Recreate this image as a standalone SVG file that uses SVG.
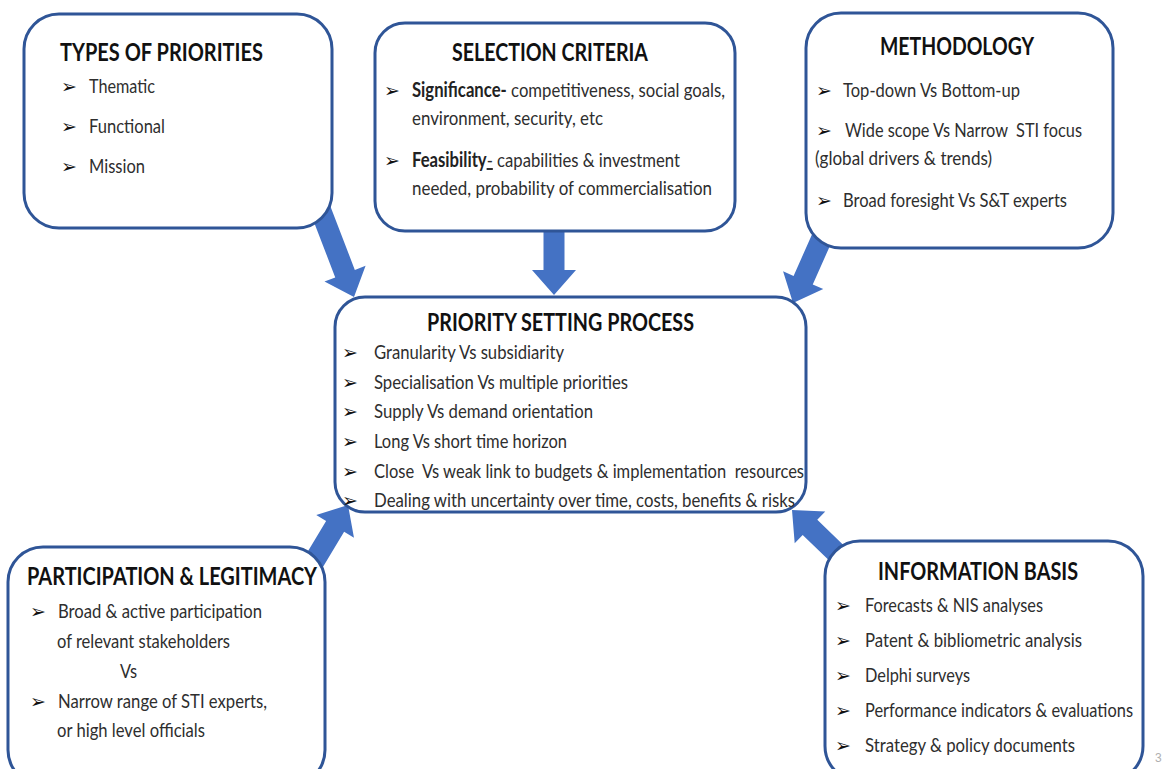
<svg xmlns="http://www.w3.org/2000/svg" width="1162" height="769" viewBox="0 0 1162 769">
  <style>
    .box { fill: #ffffff; stroke: #2F5597; stroke-width: 3; }
    .arrow { fill: #4472C4; stroke: none; }
    .title { font-family: Lato, "Open Sans", sans-serif; font-weight: 700; font-size: 24px; fill: #111111; }
    .txt { font-family: Lato, "Open Sans", sans-serif; font-size: 20px; fill: #2e2e2e; }
    .bold { font-weight: 700; fill: #222222; }
    .bul { font-family: "DejaVu Sans", sans-serif; font-size: 19px; fill: #111111; }
    .pg { font-family: "Liberation Sans", sans-serif; font-size: 12px; fill: #b0b0b0; }
  </style>
  <defs>
    <!-- block arrow pointing down (+y), tip at the origin -->
    <path id="blk" d="M-10.5,-100 L10.5,-100 L10.5,-25 L22,-25 L0,0 L-22,-25 L-10.5,-25 Z"/>
  </defs>

  <rect width="1162" height="769" fill="#ffffff"/>

  <!-- connectors: block arrows feeding the central process box -->
  <g id="connectors" class="arrow">
    <use href="#blk" transform="translate(354,297) rotate(-21)"/>
    <use href="#blk" transform="translate(554,295)"/>
    <use href="#blk" transform="translate(793,303) rotate(24)"/>
    <use href="#blk" transform="translate(348,505) rotate(-149)"/>
    <use href="#blk" transform="translate(792,510) rotate(134)"/>
  </g>

  <g id="types-of-priorities">
    <rect class="box" x="24" y="14" width="308" height="214" rx="35" ry="35"/>
    <text class="title" x="60" y="61" textLength="203" lengthAdjust="spacingAndGlyphs">TYPES OF PRIORITIES</text>
    <text class="bul" x="61" y="93">➢</text>
    <text class="txt" x="89" y="93" textLength="66" lengthAdjust="spacingAndGlyphs">Thematic</text>
    <text class="bul" x="61" y="133">➢</text>
    <text class="txt" x="89" y="133" textLength="76" lengthAdjust="spacingAndGlyphs">Functional</text>
    <text class="bul" x="61" y="173">➢</text>
    <text class="txt" x="89" y="173" textLength="56" lengthAdjust="spacingAndGlyphs">Mission</text>
  </g>

  <g id="selection-criteria">
    <rect class="box" x="375" y="23" width="360" height="208" rx="30" ry="30"/>
    <text class="title" x="452" y="61" textLength="196" lengthAdjust="spacingAndGlyphs">SELECTION CRITERIA</text>
    <text class="bul" x="384" y="97">➢</text>
    <text class="txt" x="412" y="97" textLength="313" lengthAdjust="spacingAndGlyphs"><tspan class="bold">Significance-</tspan> competitiveness, social goals,</text>
    <text class="txt" x="412" y="125" textLength="191" lengthAdjust="spacingAndGlyphs">environment, security, etc</text>
    <text class="bul" x="384" y="167">➢</text>
    <text class="txt" x="412" y="167" textLength="268" lengthAdjust="spacingAndGlyphs"><tspan class="bold">Feasibility</tspan><tspan text-decoration="underline">-</tspan> capabilities &amp; investment</text>
    <text class="txt" x="412" y="195" textLength="300" lengthAdjust="spacingAndGlyphs">needed, probability of commercialisation</text>
  </g>

  <g id="methodology">
    <rect class="box" x="806" y="13" width="307" height="235" rx="35" ry="35"/>
    <text class="title" x="880" y="55" textLength="154" lengthAdjust="spacingAndGlyphs">METHODOLOGY</text>
    <text class="bul" x="816" y="97">➢</text>
    <text class="txt" x="843" y="97" textLength="177" lengthAdjust="spacingAndGlyphs">Top-down Vs Bottom-up</text>
    <text class="bul" x="816" y="137">➢</text>
    <text class="txt" x="845" y="137" textLength="237" lengthAdjust="spacingAndGlyphs" xml:space="preserve">Wide scope Vs Narrow  STI focus</text>
    <text class="txt" x="815" y="165" textLength="177" lengthAdjust="spacingAndGlyphs">(global drivers &amp; trends)</text>
    <text class="bul" x="816" y="207">➢</text>
    <text class="txt" x="843" y="207" textLength="224" lengthAdjust="spacingAndGlyphs">Broad foresight Vs S&amp;T experts</text>
  </g>

  <g id="priority-setting-process">
    <rect class="box" x="335" y="297" width="471" height="215" rx="30" ry="30"/>
    <text class="title" x="427" y="331" textLength="267" lengthAdjust="spacingAndGlyphs">PRIORITY SETTING PROCESS</text>
    <text class="bul" x="342" y="359">➢</text>
    <text class="txt" x="374" y="359" textLength="190" lengthAdjust="spacingAndGlyphs">Granularity Vs subsidiarity</text>
    <text class="bul" x="342" y="389">➢</text>
    <text class="txt" x="374" y="389" textLength="254" lengthAdjust="spacingAndGlyphs">Specialisation Vs multiple priorities</text>
    <text class="bul" x="342" y="418">➢</text>
    <text class="txt" x="374" y="418" textLength="219" lengthAdjust="spacingAndGlyphs">Supply Vs demand orientation</text>
    <text class="bul" x="342" y="448">➢</text>
    <text class="txt" x="374" y="448" textLength="193" lengthAdjust="spacingAndGlyphs">Long Vs short time horizon</text>
    <text class="bul" x="342" y="478">➢</text>
    <text class="txt" x="374" y="478" textLength="430" lengthAdjust="spacingAndGlyphs" xml:space="preserve">Close  Vs weak link to budgets &amp; implementation  resources</text>
    <text class="bul" x="342" y="507">➢</text>
    <text class="txt" x="374" y="507" textLength="421" lengthAdjust="spacingAndGlyphs">Dealing with uncertainty over time, costs, benefits &amp; risks</text>
  </g>

  <g id="participation-legitimacy">
    <rect class="box" x="8" y="547" width="317" height="238" rx="35" ry="35"/>
    <text class="title" x="27" y="585" textLength="290" lengthAdjust="spacingAndGlyphs">PARTICIPATION &amp; LEGITIMACY</text>
    <text class="bul" x="30" y="618">➢</text>
    <text class="txt" x="58" y="618" textLength="204" lengthAdjust="spacingAndGlyphs">Broad &amp; active participation</text>
    <text class="txt" x="57" y="648" textLength="173" lengthAdjust="spacingAndGlyphs">of relevant stakeholders</text>
    <text class="txt" x="120" y="678" textLength="17" lengthAdjust="spacingAndGlyphs">Vs</text>
    <text class="bul" x="30" y="708">➢</text>
    <text class="txt" x="58" y="708" textLength="209" lengthAdjust="spacingAndGlyphs">Narrow range of STI experts,</text>
    <text class="txt" x="57" y="737" textLength="148" lengthAdjust="spacingAndGlyphs">or high level officials</text>
  </g>

  <g id="information-basis">
    <rect class="box" x="825" y="541" width="318" height="240" rx="35" ry="35"/>
    <text class="title" x="878" y="580" textLength="200" lengthAdjust="spacingAndGlyphs">INFORMATION BASIS</text>
    <text class="bul" x="835" y="612">➢</text>
    <text class="txt" x="865" y="612" textLength="178" lengthAdjust="spacingAndGlyphs">Forecasts &amp; NIS analyses</text>
    <text class="bul" x="835" y="647">➢</text>
    <text class="txt" x="865" y="647" textLength="217" lengthAdjust="spacingAndGlyphs">Patent &amp; bibliometric analysis</text>
    <text class="bul" x="835" y="682">➢</text>
    <text class="txt" x="865" y="682" textLength="105" lengthAdjust="spacingAndGlyphs">Delphi surveys</text>
    <text class="bul" x="835" y="717">➢</text>
    <text class="txt" x="865" y="717" font-size="18" textLength="268" lengthAdjust="spacingAndGlyphs">Performance indicators &amp; evaluations</text>
    <text class="bul" x="835" y="752">➢</text>
    <text class="txt" x="865" y="752" textLength="210" lengthAdjust="spacingAndGlyphs">Strategy &amp; policy documents</text>
  </g>

  <!-- slide page number -->
  <text class="pg" x="1155" y="762">3</text>
</svg>
